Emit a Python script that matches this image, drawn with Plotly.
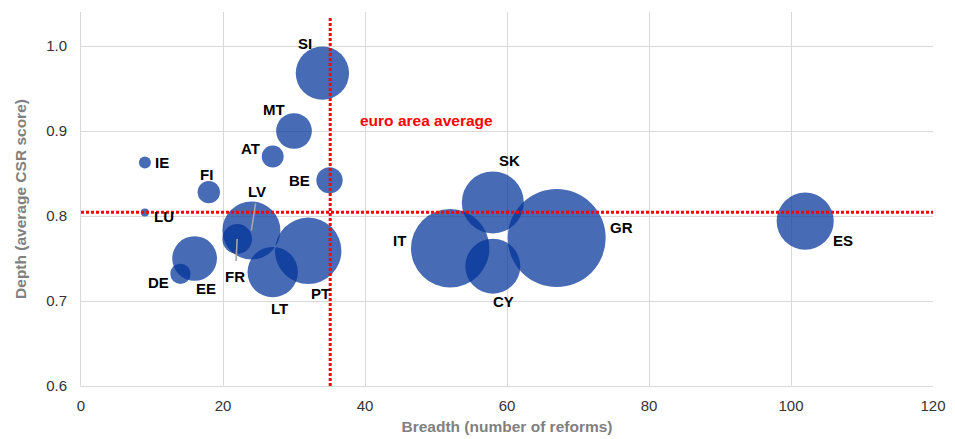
import plotly.graph_objects as go

# ---- data ----
countries = ["SI", "MT", "AT", "IE", "FI", "BE", "LU", "LV", "FR", "EE", "DE",
             "LT", "PT", "SK", "IT", "CY", "GR", "ES"]
breadth = [34, 30, 27, 9, 18, 35, 9, 24, 22, 16, 14, 27, 32, 58, 52, 58, 67, 102]
depth = [0.968, 0.900, 0.870, 0.863, 0.828, 0.842, 0.804, 0.783, 0.773, 0.750, 0.732,
         0.734, 0.759, 0.816, 0.762, 0.741, 0.774, 0.794]
bubble_weight = [29.6, 13.3, 5.0, 1.5, 5.2, 7.2, 0.67, 35, 9.2, 20.8, 4.3,
                 26.4, 46, 40, 64, 31.5, 100, 34]
avg_breadth = 35.1
avg_depth = 0.8045
x_ticks = [0, 20, 40, 60, 80, 100, 120]
y_ticks = [0.6, 0.7, 0.8, 0.9, 1.0]

# ---- styling (label offsets in px: dx right, dy down) ----
label_offsets = {
    "SI": (-17, -30), "MT": (-20, -22), "AT": (-22, -8), "IE": (17, 0),
    "FI": (-2, -18), "BE": (-30, 0), "LU": (19, 4), "LV": (6, -39),
    "FR": (-2, 38), "EE": (11, 30), "DE": (-22, 9), "LT": (7, 36),
    "PT": (12, 43), "SK": (17, -42), "IT": (-51, -8), "CY": (11, 35),
    "GR": (65, -11), "ES": (38, 19),
}
leader = {"LV", "FR"}

FONT = "Liberation Sans, Arial, sans-serif"
max_diam_px = 98
sizeref = 2.0 * max(bubble_weight) / max_diam_px ** 2

fig = go.Figure()
fig.add_trace(go.Scatter(
    x=breadth, y=depth, mode="markers",
    marker=dict(size=bubble_weight, sizemode="area", sizeref=sizeref,
                color="#003299", opacity=0.72, line=dict(width=0)),
    hovertext=countries, showlegend=False, cliponaxis=False,
))

dash = "3px,2px"
fig.add_trace(go.Scatter(x=[0, 120], y=[avg_depth, avg_depth], mode="lines",
                         line=dict(color="#ff0000", width=3, dash=dash),
                         showlegend=False, hoverinfo="skip"))
fig.add_trace(go.Scatter(x=[avg_breadth, avg_breadth], y=[0.6, 1.035], mode="lines",
                         line=dict(color="#ff0000", width=3, dash=dash),
                         showlegend=False, hoverinfo="skip"))

for c, xv, yv in zip(countries, breadth, depth):
    dx, dy = label_offsets[c]
    if c in leader:
        fig.add_annotation(x=xv, y=yv, text=f"<b>{c}</b>", showarrow=True,
                           ax=dx, ay=dy, arrowhead=0, arrowwidth=1.6,
                           arrowcolor="#a6a6a6",
                           standoff=0, startstandoff=2 if c == "LV" else 6,
                           font=dict(family=FONT, size=15, color="#000000"))
    else:
        fig.add_annotation(x=xv, y=yv, text=f"<b>{c}</b>", showarrow=False,
                           xshift=dx, yshift=-dy,
                           font=dict(family=FONT, size=15, color="#000000"))

fig.add_annotation(x=avg_breadth + 3.9, y=0.912, text="<b>euro area average</b>",
                   showarrow=False, xanchor="left",
                   font=dict(family=FONT, size=15.5, color="#ff0000"))

# page body has an 8px default margin, so the figure is sized to fit the window
fig.update_layout(
    width=947, height=431,
    margin=dict(l=73, r=22, t=4, b=53),
    paper_bgcolor="white", plot_bgcolor="white",
    font=dict(family=FONT),
    xaxis=dict(range=[0, 120], tickvals=x_ticks, showgrid=True, gridcolor="#d9d9d9",
               gridwidth=1, zeroline=False, showline=True, linecolor="#d9d9d9",
               linewidth=1, ticks="", ticklabelstandoff=6, automargin=False,
               tickfont=dict(family=FONT, size=15, color="#333333"),
               title=dict(text="<b>Breadth (number of reforms)</b>", standoff=8,
                          font=dict(family=FONT, size=15.5, color="#808080"))),
    yaxis=dict(range=[0.6, 1.04], tickvals=y_ticks, tickformat=".1f", showgrid=True,
               gridcolor="#d9d9d9", gridwidth=1, zeroline=False, showline=True,
               linecolor="#d9d9d9", linewidth=1, ticks="", ticklabelstandoff=10,
               automargin=False,
               tickfont=dict(family=FONT, size=15, color="#333333"),
               title=dict(text="<b>Depth (average CSR score)</b>", standoff=15,
                          font=dict(family=FONT, size=15.5, color="#808080"))),
)

fig.write_html("out.html")
